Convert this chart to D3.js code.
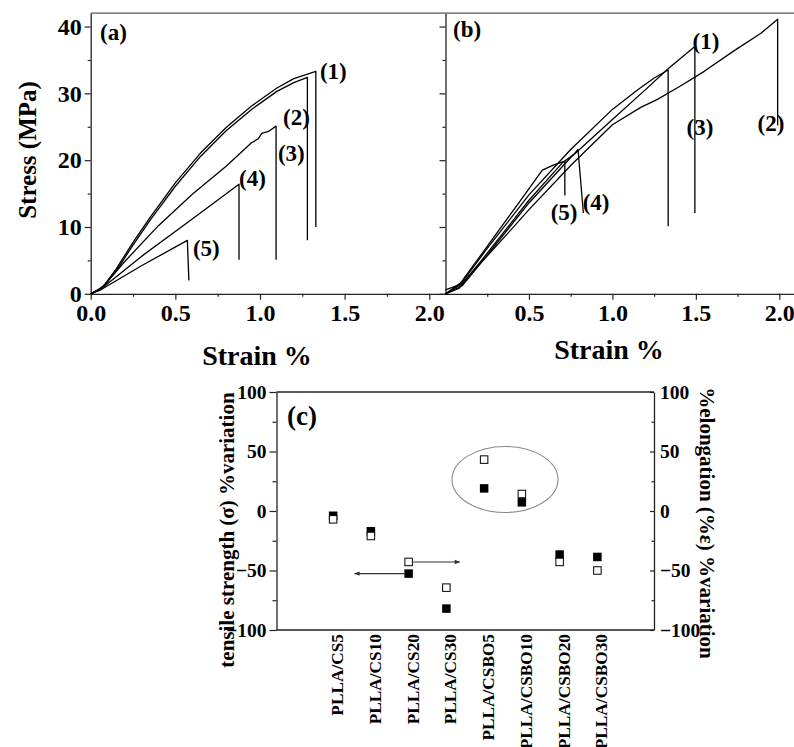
<!DOCTYPE html>
<html>
<head>
<meta charset="utf-8">
<script src="https://cdn.jsdelivr.net/npm/d3@7/dist/d3.min.js"></script>
<style>
  body { margin: 0; background: #fff; }
  svg text { font-family: "Liberation Serif", "Times New Roman", Tinos, Times, serif; font-weight: 700; fill: #000; }
</style>
</head>
<body>
<svg id="chart" width="794" height="747"></svg>
<script>
// ---- Panel (a): stress–strain curves, [strain %, stress MPa] ----
const curveA1 = [[0,0],[0.04,0.5],[0.08,1.3],[0.15,3.7],[0.25,7.7],[0.35,11.4],[0.5,16.6],[0.65,21.1],[0.8,24.9],[0.95,28.1],[1.1,30.8],[1.2,32.2],[1.33,33.3],[1.33,10.0]];
const curveA2 = [[0,0],[0.04,0.5],[0.08,1.2],[0.15,3.4],[0.25,7.3],[0.35,11.0],[0.5,16.1],[0.65,20.6],[0.8,24.4],[0.95,27.6],[1.1,30.3],[1.2,31.6],[1.28,32.4],[1.28,8.0]];
const curveA3 = [[0,0],[0.07,1.0],[0.2,4.8],[0.4,10.2],[0.6,14.9],[0.8,19.1],[0.95,22.6],[0.99,23.2],[1.01,24.0],[1.05,24.3],[1.095,25.1],[1.095,5.1]];
const curveA4 = [[0,0],[0.07,0.9],[0.3,5.6],[0.6,11.2],[0.876,16.4],[0.876,5.1]];
const curveA5 = [[0,0],[0.06,0.6],[0.3,4.2],[0.571,8.0],[0.58,2.0]];

// ---- Panel (b): stress–strain curves ----
const curveB1 = [[0,0],[0.1,1.2],[0.25,5.8],[0.5,13.6],[0.75,20.4],[1.0,26.1],[1.2,30.6],[1.33,33.6],[1.494,37.0],[1.494,12.1]];
const curveB2 = [[0,0],[0.08,0.8],[0.2,4.3],[0.35,8.4],[0.5,12.6],[0.75,19.2],[1.0,25.3],[1.17,27.9],[1.27,29.1],[1.4,31.0],[1.55,33.3],[1.73,36.4],[1.89,39.0],[1.99,41.1],[1.99,25.2]];
const curveB3 = [[0,0.6],[0.09,1.4],[0.25,6.8],[0.5,14.8],[0.75,21.6],[1.0,27.6],[1.15,30.5],[1.25,32.3],[1.334,33.5],[1.334,10.1]];
const curveB4 = [[0,0],[0.1,1.5],[0.2,4.5],[0.5,14.0],[0.7,19.6],[0.77,20.9],[0.794,21.6],[0.826,12.1]];
const curveB5 = [[0,0],[0.09,1.6],[0.25,7.1],[0.45,14.0],[0.58,18.5],[0.65,19.3],[0.715,19.85],[0.715,14.7]];

const curveNames = ["(1)", "(2)", "(3)", "(4)", "(5)"];

// ---- Panel (c): % variation relative to neat PLLA ----
const categories = ["PLLA/CS5","PLLA/CS10","PLLA/CS20","PLLA/CS30","PLLA/CSBO5","PLLA/CSBO10","PLLA/CSBO20","PLLA/CSBO30"];
const strengthVariation   = [-4, -17, -52.6, -82, 19, 7.3, -36.6, -38.6];
const elongationVariation = [-7, -21, -42.8, -64.4, 43.2, 14.3, -42.8, -50];

const strainTicks = [0, 0.5, 1.0, 1.5, 2.0];
const strainMinor = [0.25, 0.75, 1.25, 1.75];
const stressTicks = [0, 10, 20, 30, 40];
const stressMinor = [5, 15, 25, 35];
const variationTicks = [-100, -50, 0, 50, 100];
const variationMinor = [-75, -25, 25, 75];

const FONT = '"Liberation Serif", "Times New Roman", Tinos, Times, serif';
const svg = d3.select("#chart");

// scales
const xA = d3.scaleLinear().domain([0, 2.1]).range([90.7, 446.2]);
const xB = d3.scaleLinear().domain([0, 2.1]).range([445.5, 796]);
const yS = d3.scaleLinear().domain([0, 42]).range([293.8, 13.2]);

const frame = "#222";

function styleAxis(g, fontSize) {
  g.attr("font-family", FONT);
  g.select(".domain").attr("stroke", frame).attr("stroke-width", 1.3);
  g.selectAll(".tick line").attr("stroke", frame).attr("stroke-width", 1.2);
  g.selectAll(".tick text").attr("font-size", fontSize).attr("fill", "#000");
}

// ---- panel (a) axes ----
const gA = svg.append("g");
gA.append("g").attr("transform", `translate(0,${yS(0)})`)
  .call(d3.axisBottom(xA).tickValues(strainTicks).tickFormat(d3.format(".1f")).tickSize(6).tickSizeOuter(0).tickPadding(4))
  .call(g => styleAxis(g, 24));
gA.append("g").attr("transform", `translate(0,${yS(0)})`)
  .call(d3.axisBottom(xA).tickValues(strainMinor).tickFormat("").tickSize(3).tickSizeOuter(0))
  .call(g => { styleAxis(g, 24); g.select(".domain").remove(); });
gA.append("g").attr("transform", `translate(${xA(0)},0)`)
  .call(d3.axisLeft(yS).tickValues(stressTicks).tickFormat(d3.format("d")).tickSize(6).tickSizeOuter(0).tickPadding(3))
  .call(g => styleAxis(g, 24));
gA.append("g").attr("transform", `translate(${xA(0)},0)`)
  .call(d3.axisLeft(yS).tickValues(stressMinor).tickFormat("").tickSize(3).tickSizeOuter(0))
  .call(g => { styleAxis(g, 24); g.select(".domain").remove(); });
// shared border between (a) and (b), ticks pointing into (a)
gA.append("g").attr("transform", `translate(${xB(0)},0)`)
  .call(d3.axisLeft(yS).tickValues(stressTicks).tickFormat("").tickSize(6).tickSizeOuter(0))
  .call(g => styleAxis(g, 24));
gA.append("g").attr("transform", `translate(${xB(0)},0)`)
  .call(d3.axisLeft(yS).tickValues(stressMinor).tickFormat("").tickSize(3).tickSizeOuter(0))
  .call(g => { styleAxis(g, 24); g.select(".domain").remove(); });
// top border across both panels
svg.append("line").attr("x1", xA(0)).attr("x2", 794).attr("y1", yS(42)).attr("y2", yS(42))
  .attr("stroke", frame).attr("stroke-width", 1.3).attr("stroke-opacity", 0.75);

// ---- panel (b) axis ----
svg.append("g").attr("transform", `translate(0,${yS(0)})`)
  .call(d3.axisBottom(xB).tickValues(strainTicks.slice(1)).tickFormat(d3.format(".1f")).tickSize(6).tickSizeOuter(0).tickPadding(4))
  .call(g => styleAxis(g, 24));
svg.append("g").attr("transform", `translate(0,${yS(0)})`)
  .call(d3.axisBottom(xB).tickValues(strainMinor).tickFormat("").tickSize(3).tickSizeOuter(0))
  .call(g => { styleAxis(g, 24); g.select(".domain").remove(); });

// axis titles
svg.append("text").attr("transform", "translate(36,150) rotate(-90)")
  .attr("text-anchor", "middle").attr("font-size", 25).text("Stress (MPa)");
svg.append("text").attr("x", 257).attr("y", 365).attr("text-anchor", "middle")
  .attr("font-size", 28).text("Strain %");
svg.append("text").attr("x", 609).attr("y", 359).attr("text-anchor", "middle")
  .attr("font-size", 28).text("Strain %");

// curves
const lineA = d3.line().x(d => xA(d[0])).y(d => yS(d[1]));
const lineB = d3.line().x(d => xB(d[0])).y(d => yS(d[1]));
[curveA1, curveA2, curveA3, curveA4, curveA5].forEach(c => {
  svg.append("path").datum(c).attr("d", lineA).attr("fill", "none")
    .attr("stroke", "#000").attr("stroke-width", 1.3).attr("stroke-linejoin", "round");
});
[curveB1, curveB2, curveB3, curveB4, curveB5].forEach(c => {
  svg.append("path").datum(c).attr("d", lineB).attr("fill", "none")
    .attr("stroke", "#000").attr("stroke-width", 1.3).attr("stroke-linejoin", "round");
});

// curve labels, anchored in data units (strain, stress)
const labelAnchorsA = [[1.354, 32.1], [1.136, 25.3], [1.106, 19.9], [0.876, 16.2], [0.604, 5.7]];
const labelAnchorsB = [[1.48, 36.6], [1.87, 24.4], [1.444, 23.8], [0.822, 12.6], [0.63, 11.1]];
labelAnchorsA.forEach((p, i) => {
  svg.append("text").attr("x", xA(p[0])).attr("y", yS(p[1])).attr("font-size", 23).text(curveNames[i]);
});
labelAnchorsB.forEach((p, i) => {
  svg.append("text").attr("x", xB(p[0])).attr("y", yS(p[1])).attr("font-size", 23).text(curveNames[i]);
});
svg.append("text").attr("x", 100).attr("y", 40).attr("font-size", 23).text("(a)");
svg.append("text").attr("x", 453).attr("y", 37).attr("font-size", 23).text("(b)");

// ---- panel (c) ----
const xC = d3.scalePoint().domain(categories).range([276.5, 654]).padding(1.5);
const yC = d3.scaleLinear().domain([-100, 100]).range([630, 392]);

const gC = svg.append("g");
gC.append("g").attr("transform", `translate(${xC.range()[0]},0)`)
  .call(d3.axisLeft(yC).tickValues(variationTicks).tickSize(7).tickSizeOuter(0).tickPadding(3))
  .call(g => styleAxis(g, 19.5));
gC.append("g").attr("transform", `translate(${xC.range()[0]},0)`)
  .call(d3.axisLeft(yC).tickValues(variationMinor).tickFormat("").tickSize(4).tickSizeOuter(0))
  .call(g => { styleAxis(g, 19.5); g.select(".domain").remove(); });
gC.append("g").attr("transform", `translate(${xC.range()[1]},0)`)
  .call(d3.axisRight(yC).tickValues(variationTicks).tickSizeInner(-4).tickSizeOuter(0).tickPadding(6))
  .call(g => styleAxis(g, 19.5));
gC.append("g").attr("transform", `translate(${xC.range()[1]},0)`)
  .call(d3.axisRight(yC).tickValues(variationMinor).tickFormat("").tickSizeInner(-2.5).tickSizeOuter(0))
  .call(g => { styleAxis(g, 19.5); g.select(".domain").remove(); });
// top and bottom borders
[yC(100), yC(-100)].forEach(y => {
  gC.append("line").attr("x1", xC.range()[0]).attr("x2", xC.range()[1]).attr("y1", y).attr("y2", y)
    .attr("stroke", frame).attr("stroke-width", 1.3);
});

// category labels, read bottom-to-top below the axis
categories.forEach(c => {
  gC.append("text").attr("transform", `translate(${xC(c) + 4},634) rotate(-90)`)
    .attr("text-anchor", "end").attr("dy", "0.35em").attr("font-size", 17.3).text(c);
});

// axis titles
gC.append("text").attr("transform", `translate(234,530) rotate(-90)`)
  .attr("text-anchor", "middle").attr("font-size", 21).text("tensile strength (σ) %variation");
gC.append("text").attr("transform", `translate(700,523) rotate(90)`)
  .attr("text-anchor", "middle").attr("font-size", 21).text("%elongation (%ε) %variation");
gC.append("text").attr("x", 287).attr("y", 425).attr("font-size", 27).text("(c)");

// ellipse highlighting the CSBO5 / CSBO10 samples
gC.append("ellipse")
  .attr("cx", (xC("PLLA/CSBO5") + xC("PLLA/CSBO10")) / 2 + 2)
  .attr("cy", yC(26.5)).attr("rx", 53).attr("ry", 33)
  .attr("fill", "none").attr("stroke", "#888").attr("stroke-width", 1.1);

// markers: filled = tensile strength, open = elongation
const ms = 8.5;
gC.selectAll("rect.strength").data(categories).join("rect").attr("class", "strength")
  .attr("x", c => xC(c) - ms / 2).attr("y", (c, i) => yC(strengthVariation[i]) - ms / 2)
  .attr("width", ms).attr("height", ms).attr("fill", "#000");
gC.selectAll("rect.elong").data(categories).join("rect").attr("class", "elong")
  .attr("x", c => xC(c) - ms / 2 + 0.5).attr("y", (c, i) => yC(elongationVariation[i]) - ms / 2 + 0.5)
  .attr("width", ms - 1).attr("height", ms - 1).attr("fill", "#fff").attr("stroke", "#000").attr("stroke-width", 1);

// arrows pointing each series to its axis
const defs = svg.append("defs");
defs.append("marker").attr("id", "ah").attr("viewBox", "0 0 10 10").attr("refX", 9).attr("refY", 5)
  .attr("markerWidth", 6).attr("markerHeight", 5).attr("orient", "auto")
  .append("path").attr("d", "M0,1 L10,5 L0,9 Z").attr("fill", "#333");
const iArrow = categories.indexOf("PLLA/CS20");
const ax = xC(categories[iArrow]);
gC.append("line").attr("x1", ax + 4).attr("x2", ax + 51)
  .attr("y1", yC(elongationVariation[iArrow])).attr("y2", yC(elongationVariation[iArrow]))
  .attr("stroke", "#333").attr("stroke-width", 1.1).attr("marker-end", "url(#ah)");
gC.append("line").attr("x1", ax - 4).attr("x2", ax - 54)
  .attr("y1", yC(strengthVariation[iArrow])).attr("y2", yC(strengthVariation[iArrow]))
  .attr("stroke", "#333").attr("stroke-width", 1.1).attr("marker-end", "url(#ah)");
</script>
</body>
</html>
